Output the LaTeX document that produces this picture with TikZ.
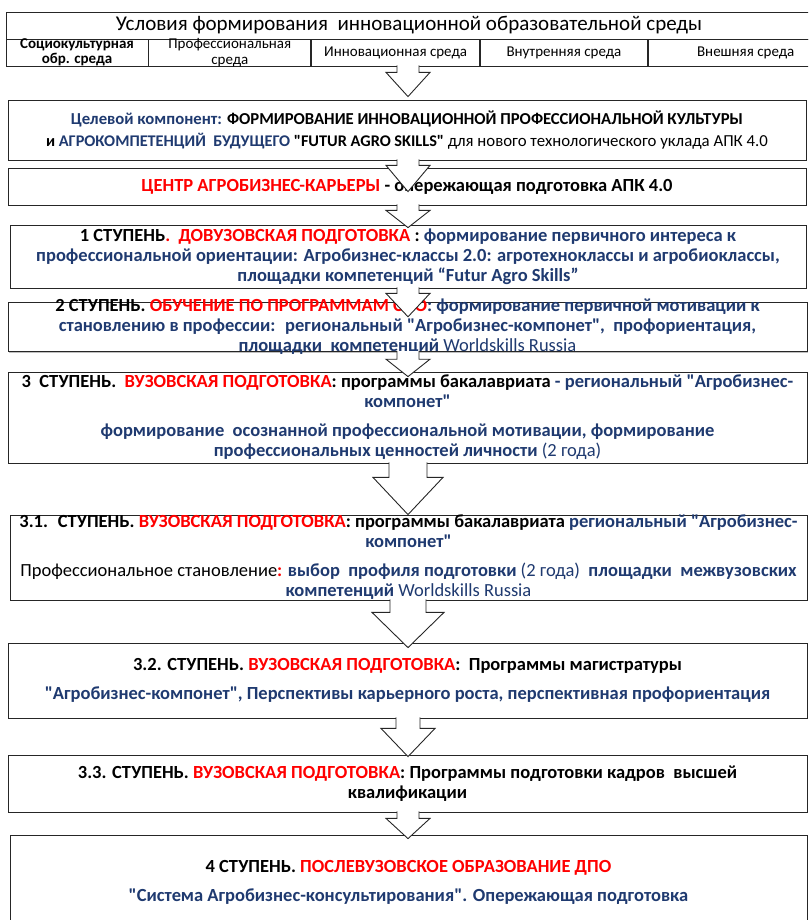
\documentclass[tikz,border=0pt]{standalone}
\usepackage{fontspec}
\setmainfont{Carlito}[Ligatures=TeXOff]
\usepackage{xcolor}
\usetikzlibrary{calc,positioning,shadows}
\definecolor{navy}{HTML}{1F3A70}
\definecolor{hred}{HTML}{FF0000}
\newcommand{\rd}[1]{\textcolor{hred}{#1}}
\newcommand{\nv}[1]{\textcolor{navy}{#1}}
\tikzset{
  stage/.style={draw=black!85, fill=white, line width=0.8pt, align=center,
  text centered, inner sep=0pt, font=\fontsize{18.5}{20}\selectfont\bfseries,
  drop shadow={shadow xshift=1.2pt, shadow yshift=-1.2pt, fill=black!50}},
  cell/.style={draw=black!85, line width=0.8pt, minimum height=27pt,
  inner xsep=0pt, inner ysep=-3pt, align=center, font=\fontsize{15}{15.5}\selectfont},
  flowarr/.style={draw=black!85, fill=white, line width=0.9pt}
}
% block arrow: from, to, half shaft, half head, shaft length, tip depth in target
\newcommand{\flowarrow}[6]{%
  \draw[flowarr] let \p1=(#1.south), \p2=(#2.north) in
    ({408pt-#3pt},{\y1+1pt}) -- ({408pt-#3pt},{\y1-#5pt}) -- ({408pt-#4pt},{\y1-#5pt})
    -- ({408pt},{\y2-(#6pt)}) -- ({408pt+#4pt},{\y1-#5pt}) -- ({408pt+#3pt},{\y1-#5pt})
    -- ({408pt+#3pt},{\y1+1pt});}

\begin{document}
\begin{tikzpicture}[x=1pt,y=-1pt]
\useasboundingbox (0,0) rectangle (808,920);
\clip (0,0) rectangle (808,920);

% conditions
\node[draw=black!85, line width=0.8pt, minimum width=806pt, minimum height=27pt,
  inner sep=0pt, font=\fontsize{21}{22}\selectfont] (hdr) at (409,25.5)
  {Условия формирования \ инновационной образовательной среды};
\node[cell, minimum width=142pt, font=\fontsize{15}{15.5}\selectfont\bfseries]
  (c1) at (77,52.5) {Социокультурная\\обр. среда};
\node[cell, minimum width=162pt, right=0pt of c1] (c2) {Профессиональная\\среда};
\node[cell, minimum width=168pt, right=0pt of c2] (c3) {Инновационная среда};
\node[cell, minimum width=167pt, right=0pt of c3] (c4) {Внутренняя среда};
\node[cell, minimum width=195pt, right=0pt of c4] (c5) {Внешняя среда};

\node[stage, minimum width=798pt, minimum height=60pt] (tsel) at (407,130)
  {{\fontsize{16.7}{20}\selectfont\nv{Целевой компонент:} ФОРМИРОВАНИЕ ИННОВАЦИОННОЙ ПРОФЕССИОНАЛЬНОЙ КУЛЬТУРЫ}\\[2pt]
   {\fontsize{16.3}{20}\selectfont и \nv{АГРОКОМПЕТЕНЦИЙ \ БУДУЩЕГО} "FUTUR AGRO SKILLS" {\mdseries\fontsize{16.8}{20}\selectfont для нового технологического уклада АПК 4.0}}};
\node[stage, minimum width=798pt, minimum height=37pt] (tsentr) at (407,186.5)
  {\rd{ЦЕНТР АГРОБИЗНЕС-КАРЬЕРЫ} - опережающая подготовка АПК 4.0};
\node[stage, minimum width=796pt, minimum height=63pt] (st1) at (408,256.5)
  {1 СТУПЕНЬ\rd{. \ ДОВУЗОВСКАЯ ПОДГОТОВКА} : \nv{формирование первичного интереса к}\\
   \nv{профессиональной ориентации: Агробизнес-классы 2.0: агротехноклассы и агробиоклассы,}\\
   \nv{площадки компетенций “Futur Agro Skills”}};
\node[stage, minimum width=799pt, inner ysep=-3pt] (st2) at (407.5,327)
  {2 СТУПЕНЬ. \rd{ОБУЧЕНИЕ ПО ПРОГРАММАМ СПО}\nv{: формирование первичной мотивации к}\\
   \nv{становлению в профессии: \ региональный "Агробизнес-компонет", \ профориентация,}\\
   \nv{площадки \ компетенций {\mdseries Worldskills Russia}}};
\node[stage, minimum width=799pt, minimum height=91pt] (st3) at (407.5,417.5)
  {3 \ СТУПЕНЬ. \ \rd{ВУЗОВСКАЯ ПОДГОТОВКА}: программы бакалавриата \nv{- региональный "Агробизнес-}\\
   \nv{компонет"}\\[9pt]
   \nv{формирование \ осознанной профессиональной мотивации, формирование}\\
   \nv{профессиональных ценностей личности {\mdseries(2 года)}}};
\node[stage, minimum width=797pt, minimum height=85pt] (st31) at (408.5,557.5)
  {3.1. \ СТУПЕНЬ. \rd{ВУЗОВСКАЯ ПОДГОТОВКА}: программы бакалавриата \nv{региональный "Агробизнес-}\\
   \nv{компонет"}\\[9pt]
   {\mdseries Профессиональное становление}\rd{:} \nv{выбор \ профиля подготовки {\mdseries(2 года)} \ площадки \ межвузовских}\\
   \nv{компетенций {\mdseries Worldskills Russia}}};
\node[stage, minimum width=799pt, minimum height=75pt] (st32) at (407.5,680.5)
  {3.2. СТУПЕНЬ. \rd{ВУЗОВСКАЯ ПОДГОТОВКА}: \ Программы магистратуры\\[9pt]
   \nv{"Агробизнес-компонет", Перспективы карьерного роста, перспективная профориентация}};
\node[stage, minimum width=799pt, minimum height=57pt] (st33) at (407.5,783.5)
  {3.3. СТУПЕНЬ. \rd{ВУЗОВСКАЯ ПОДГОТОВКА}: Программы подготовки кадров \ высшей\\
   квалификации};
\node[stage, minimum width=797pt, minimum height=95pt] (st4) at (408.5,882.5)
  {4 СТУПЕНЬ. \rd{ПОСЛЕВУЗОВСКОЕ ОБРАЗОВАНИЕ ДПО}\\[9pt]
   \nv{"Система Агробизнес-консультирования". Опережающая подготовка}};

% arrows between the stages
\flowarrow{c3}{tsel}{11}{22}{6}{-3}
\flowarrow{tsel}{tsentr}{11}{22}{5}{24}
\flowarrow{tsentr}{st1}{11}{22}{5}{3}
\flowarrow{st1}{st2}{11}{22}{5}{15}
\flowarrow{st2}{st3}{11}{22}{7}{5}
\flowarrow{st3}{st31}{19}{35}{14}{0}
\flowarrow{st31}{st32}{18}{36}{12}{5}
\flowarrow{st32}{st33}{12}{27}{10}{2}
\flowarrow{st33}{st4}{11}{22}{6}{4}
\end{tikzpicture}
\end{document}
